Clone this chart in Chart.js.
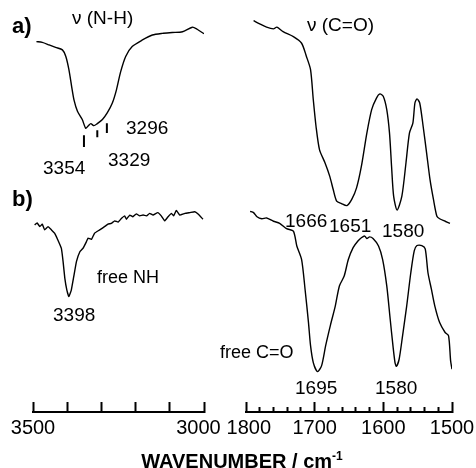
<!DOCTYPE html>
<html>
<head>
<meta charset="utf-8">
<script src="https://cdn.jsdelivr.net/npm/chart.js@4/dist/chart.umd.min.js"></script>
<style>
  body { margin: 0; background: #fff; }
  #wrap { position: relative; width: 476px; height: 468px; font-family: "Liberation Sans", Arial, Helvetica, sans-serif; color: #000; }
  #wrap canvas { position: absolute; left: 0; top: 0; }
  .lbl { position: absolute; font-size: 19px; line-height: 1; white-space: nowrap; }
  .big { font-size: 22px; font-weight: bold; }
  .txt { font-size: 18px; }
  #axisTitle { position: absolute; left: 0; width: 484px; top: 450px; text-align: center; font-size: 20px; font-weight: bold; line-height: 1; }
  #axisTitle sup { font-size: 12px; }
</style>
</head>
<body>
<div id="wrap">
  <canvas id="nhChart" width="476" height="468"></canvas>
  <canvas id="coChart" width="476" height="468"></canvas>

  <div class="lbl big" style="left:12px;top:15px">a)</div>
  <div class="lbl big" style="left:12px;top:188px">b)</div>
  <div class="lbl" style="left:72px;top:8px">&nu; (N-H)</div>
  <div class="lbl" style="left:307px;top:15px">&nu; (C=O)</div>

  <div class="lbl" style="left:126px;top:118px">3296</div>
  <div class="lbl" style="left:43px;top:158px">3354</div>
  <div class="lbl" style="left:108px;top:150px">3329</div>
  <div class="lbl txt" style="left:97px;top:268px">free NH</div>
  <div class="lbl" style="left:53px;top:305px">3398</div>

  <div class="lbl" style="left:285px;top:211px">1666</div>
  <div class="lbl" style="left:329px;top:216px">1651</div>
  <div class="lbl" style="left:382px;top:221px">1580</div>
  <div class="lbl txt" style="left:220px;top:343px">free C=O</div>
  <div class="lbl" style="left:295px;top:378px">1695</div>
  <div class="lbl" style="left:375px;top:378px">1580</div>

  <div id="axisTitle">WAVENUMBER / cm<sup>-1</sup></div>
</div>

<script>
// N-H stretch region, trace a (wavenumber / signal, arbitrary units)
var nhWaveA = [3490, 3473, 3453, 3434, 3414, 3404, 3395, 3387, 3380, 3370, 3356, 3346, 3338, 3331, 3322, 3312,
               3297, 3283, 3268, 3256, 3244, 3229, 3210, 3180, 3151, 3122, 3093, 3063, 3034, 3020, 3000];
var nhSignalA = [89.9, 89.7, 89.1, 88.5, 87.9, 86.3, 83.1, 79.0, 75.7, 73.0, 71.0, 68.9, 69.5, 70.0, 69.5, 70.0,
                 71.0, 72.6, 75.0, 78.2, 82.5, 86.3, 88.7, 90.3, 91.5, 91.9, 92.1, 92.3, 93.4, 92.9, 91.8];

// N-H stretch region, trace b
var nhWaveB = [3495, 3488, 3480, 3473, 3466, 3456, 3446, 3437, 3427, 3417, 3412, 3407, 3401, 3395, 3388, 3381,
               3373, 3363, 3354, 3344, 3339, 3329, 3320, 3305, 3289, 3281, 3271, 3261, 3251, 3241, 3232, 3227,
               3217, 3208, 3198, 3188, 3178, 3168, 3159, 3149, 3135, 3125, 3115, 3105, 3095, 3089, 3081, 3071,
               3056, 3041, 3027, 3018, 3003];
var nhSignalB = [45.4, 45.9, 45.0, 45.6, 44.2, 45.0, 44.2, 43.4, 41.7, 39.7, 36.5, 32.5, 29.6, 28.0, 29.6, 32.8,
                 36.5, 38.9, 39.7, 41.3, 42.2, 41.9, 43.4, 44.2, 45.1, 45.6, 45.8, 46.4, 46.1, 47.0, 47.6, 46.8,
                 47.8, 47.4, 48.1, 47.6, 47.8, 47.6, 48.2, 47.8, 48.4, 47.6, 46.4, 47.4, 48.2, 47.6, 48.9, 47.8,
                 48.2, 48.4, 48.6, 48.1, 46.8];

// band markers under trace a (3354, 3329, 3296)
var markWave = [3351, 3312, 3284];
var markTop = [67.2, 68.4, 70.1];
var markBottom = [64.3, 66.7, 67.7];

// C=O stretch region, trace a
var coWaveA = [1789, 1780, 1770, 1760, 1755, 1746, 1731, 1719, 1712, 1706, 1702, 1698, 1693, 1685, 1678, 1673,
               1668, 1661, 1653, 1646, 1639, 1632, 1624, 1617, 1610, 1605, 1600, 1595, 1591, 1588, 1585, 1580,
               1573, 1567, 1562, 1557, 1554, 1551, 1547, 1542, 1537, 1532, 1527, 1522, 1518, 1510, 1503];
var coSignalA = [95.0, 94.2, 93.4, 93.0, 93.4, 92.3, 91.1, 89.5, 86.3, 83.1, 75.8, 69.3, 63.7, 60.5, 57.2, 54.0,
                 51.2, 50.6, 50.1, 51.6, 54.4, 59.6, 67.7, 73.4, 76.2, 77.2, 76.6, 73.4, 67.7, 59.6, 52.4, 49.0,
                 52.4, 60.5, 67.7, 70.1, 75.0, 76.0, 75.0, 69.3, 62.9, 56.4, 51.6, 47.5, 46.9, 46.3, 45.8];

// C=O stretch region, trace b
var coWaveB = [1794, 1789, 1784, 1777, 1770, 1760, 1751, 1741, 1731, 1726, 1719, 1714, 1709, 1706, 1702, 1696,
               1690, 1684, 1677, 1670, 1664, 1657, 1651, 1644, 1637, 1632, 1627, 1624, 1620, 1615, 1607, 1601,
               1595, 1590, 1586, 1583, 1581, 1577, 1572, 1566, 1560, 1555, 1551, 1544, 1539, 1535, 1530, 1525,
               1518, 1510, 1505, 1502, 1500];
var coSignalB = [48.7, 48.4, 47.4, 46.9, 47.1, 46.3, 45.8, 44.5, 43.9, 40.3, 37.0, 29.8, 21.7, 16.1, 12.0, 9.8,
                 11.2, 16.1, 21.1, 25.7, 30.6, 33.0, 37.0, 39.9, 41.5, 42.3, 42.7, 42.1, 42.5, 42.1, 40.3, 37.0,
                 30.6, 22.5, 16.1, 12.0, 11.1, 12.8, 18.5, 25.7, 33.8, 39.1, 40.4, 40.4, 39.6, 33.8, 29.8, 25.7,
                 21.7, 19.3, 18.5, 12.4, 10.4];

function toPoints(xs, ys) {
    return xs.map(function(x, i) { return { x: x, y: ys[i] }; });
}

function markerPoints() {
    var pts = [];
    for (var i = 0; i < markWave.length; i++) {
        pts.push({ x: markWave[i], y: markTop[i] });
        pts.push({ x: markWave[i], y: markBottom[i] });
        pts.push({ x: markWave[i], y: null });
    }
    return pts;
}

function trace(points, width, tension) {
    return {
        data: points,
        showLine: true,
        borderColor: '#000',
        borderWidth: width || 1.4,
        pointRadius: 0,
        tension: tension === undefined ? 0.25 : tension,
        spanGaps: false
    };
}

function xAxis(min, max, step, withMinor) {
    return {
        type: 'linear',
        position: 'bottom',
        min: min,
        max: max,
        reverse: true,
        border: { display: true, color: '#000', width: 2 },
        grid: {
            display: true,
            drawOnChartArea: false,
            drawTicks: true,
            tickLength: -10,
            tickWidth: 2,
            tickColor: '#000',
            // minor ticks: only the first few px of the tick line are drawn
            tickBorderDash: function(ctx) {
                if (withMinor && ctx.tick && ctx.tick.value % 100 !== 0) {
                    return [6, 40];
                }
                return [];
            }
        },
        ticks: {
            stepSize: step,
            autoSkip: false,
            maxRotation: 0,
            padding: 14,
            color: '#000',
            font: { family: '"Liberation Sans", Arial, sans-serif', size: 20 },
            callback: function(v) {
                if (v === 3000) return '3000  ';
                if (v === 1800) return ' 1800';
                if (v === min || v === max || (withMinor && v % 100 === 0)) return v;
                return '';
            }
        },
        // keep the plot edges where the layout padding puts them
        afterFit: function(scale) {
            scale.paddingLeft = 0;
            scale.paddingRight = 0;
        }
    };
}

function makeChart(id, datasets, xOpts, pad) {
    return new Chart(document.getElementById(id), {
        type: 'scatter',
        data: { datasets: datasets },
        options: {
            responsive: false,
            animation: false,
            layout: { padding: pad },
            plugins: { legend: { display: false }, tooltip: { enabled: false } },
            scales: {
                x: xOpts,
                y: { display: false, min: 0, max: 100 }
            }
        }
    });
}

makeChart('nhChart', [
    trace(toPoints(nhWaveA, nhSignalA)),
    trace(toPoints(nhWaveB, nhSignalB), 1.4, 0.1),
    trace(markerPoints(), 2, 0)
], xAxis(3000, 3500, 100, false), { left: 33, right: 272, top: 0, bottom: 14 });

makeChart('coChart', [
    trace(toPoints(coWaveA, coSignalA)),
    trace(toPoints(coWaveB, coSignalB))
], xAxis(1500, 1800, 20, true), { left: 246, right: 24, top: 0, bottom: 14 });
</script>
</body>
</html>
